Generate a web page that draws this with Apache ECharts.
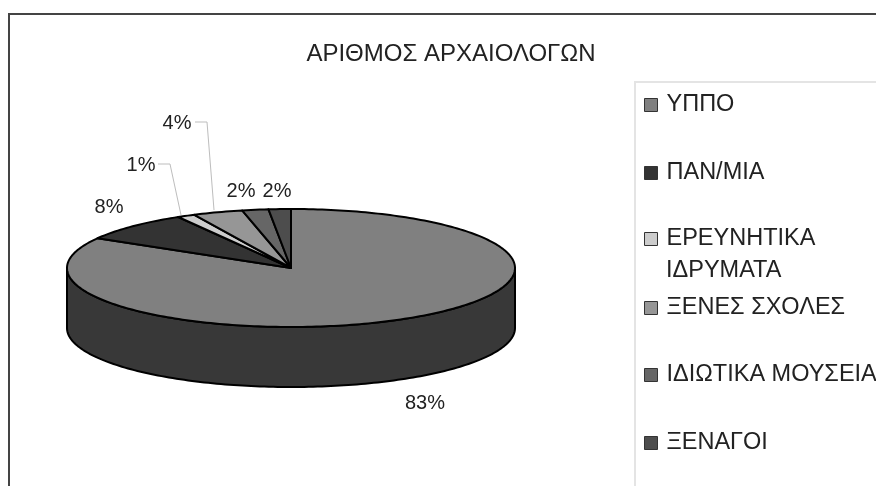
<!DOCTYPE html>
<html>
<head>
<meta charset="utf-8">
<title>ΑΡΙΘΜΟΣ ΑΡΧΑΙΟΛΟΓΩΝ</title>
<style>
  html, body { margin: 0; padding: 0; background: #fff; }
  #chart { width: 876px; height: 486px; }
</style>
</head>
<body>
<div id="chart"></div>
<script src="https://cdn.jsdelivr.net/npm/echarts@6/dist/echarts.min.js"></script>
<script>
var categories = ['ΥΠΠΟ', 'ΠΑΝ/ΜΙΑ', 'ΕΡΕΥΝΗΤΙΚΑ ΙΔΡΥΜΑΤΑ', 'ΞΕΝΕΣ ΣΧΟΛΕΣ', 'ΙΔΙΩΤΙΚΑ ΜΟΥΣΕΙΑ', 'ΞΕΝΑΓΟΙ']
var shares = [83.4, 8.2, 1.3, 3.6, 1.9, 1.6]

var colors = ['#808080', '#333333', '#cccccc', '#969696', '#666666', '#4d4d4d']
var sideColor = '#383838'
var legendTops = [93, 161, 227, 296, 363, 431]
var labelPos = [[425, 403], [109, 207], [141, 165], [177, 123], [241, 191], [277, 191]]
var leaders = {
  2: [[158, 164], [170, 164], [181, 215]],
  3: [[195, 122], [207, 122], [214, 210]]
}

var font = '"Liberation Sans", Arial, sans-serif'
var pie = { cx: 291, cy: 268, rx: 224, ry: 59, depth: 60 }

var total = shares.reduce(function (a, b) { return a + b }, 0)

// angle runs clockwise from 12 o'clock, squashed onto the ellipse
function rimPoint (t, dy) {
  return [pie.cx + pie.rx * Math.sin(t), pie.cy - pie.ry * Math.cos(t) + (dy || 0)]
}

function arcPoints (a0, a1, dy) {
  var pts = []
  var n = Math.max(2, Math.ceil((a1 - a0) / 0.02))
  for (var i = 0; i <= n; i++) {
    pts.push(rimPoint(a0 + (a1 - a0) * i / n, dy))
  }
  return pts
}

function makeRenderer (idx) {
  return function (params, api) {
    var before = shares.slice(0, idx).reduce(function (a, b) { return a + b }, 0)
    var a0 = before / total * Math.PI * 2
    var a1 = (before + api.value(0)) / total * Math.PI * 2
    var children = []

    // front wall is only seen between 3 and 9 o'clock
    var w0 = Math.max(a0, Math.PI / 2)
    var w1 = Math.min(a1, Math.PI * 1.5)
    if (w1 > w0) {
      children.push({
        type: 'polygon',
        shape: { points: arcPoints(w0, w1, 0).concat(arcPoints(w0, w1, pie.depth).reverse()) },
        style: { fill: sideColor, stroke: '#000', lineWidth: 2, lineJoin: 'round' }
      })
    }

    children.push({
      type: 'polygon',
      shape: { points: [[pie.cx, pie.cy]].concat(arcPoints(a0, a1, 0)) },
      style: { fill: colors[idx], stroke: '#000', lineWidth: 2, lineJoin: 'round' }
    })

    if (leaders[idx]) {
      children.push({
        type: 'polyline',
        shape: { points: leaders[idx] },
        style: { fill: null, stroke: '#bdbdbd', lineWidth: 1 }
      })
    }

    children.push({
      type: 'text',
      style: {
        x: labelPos[idx][0],
        y: labelPos[idx][1],
        text: Math.round(api.value(0) / total * 100) + '%',
        font: '20px ' + font,
        fill: '#222',
        align: 'center',
        verticalAlign: 'middle'
      }
    })

    return { type: 'group', children: children }
  }
}

var chart = echarts.init(document.getElementById('chart'), null, { renderer: 'canvas' })

var option = {
  animation: false,
  backgroundColor: '#fff',
  title: {
    text: 'ΑΡΙΘΜΟΣ ΑΡΧΑΙΟΛΟΓΩΝ',
    left: 446,
    top: 37,
    textAlign: 'center',
    textStyle: { fontFamily: font, fontSize: 24, fontWeight: 'normal', color: '#222' }
  },
  legend: categories.map(function (name, i) {
    return {
      data: [name],
      left: 644,
      top: legendTops[i],
      padding: 0,
      icon: 'rect',
      itemWidth: 13,
      itemHeight: 13,
      itemGap: 0,
      selectedMode: false,
      itemStyle: { borderColor: '#333', borderWidth: 1 },
      textStyle: { fontFamily: font, fontSize: 23.5, color: '#222', padding: [0, 0, 0, 4] },
      // second line of the long name goes in as a graphic below
      formatter: function (n) { return n === 'ΕΡΕΥΝΗΤΙΚΑ ΙΔΡΥΜΑΤΑ' ? 'ΕΡΕΥΝΗΤΙΚΑ' : n }
    }
  }),
  graphic: [
    // chart frame, only top and left are inside the crop
    { type: 'polyline', silent: true, shape: { points: [[9, 486], [9, 14], [876, 14]] }, style: { fill: null, stroke: '#444', lineWidth: 2 } },
    // legend box
    { type: 'polyline', silent: true, shape: { points: [[635, 486], [635, 82], [876, 82]] }, style: { fill: null, stroke: '#e4e4e4', lineWidth: 2 } },
    { type: 'text', silent: true, style: { x: 666, y: 271, text: 'ΙΔΡΥΜΑΤΑ', font: '23.5px ' + font, fill: '#222', verticalAlign: 'middle' } }
  ],
  series: categories.map(function (name, i) {
    return {
      type: 'custom',
      name: name,
      coordinateSystem: 'none',
      silent: true,
      itemStyle: { color: colors[i] },
      data: [[shares[i]]],
      renderItem: makeRenderer(i)
    }
  })
}

chart.setOption(option)
</script>
</body>
</html>
